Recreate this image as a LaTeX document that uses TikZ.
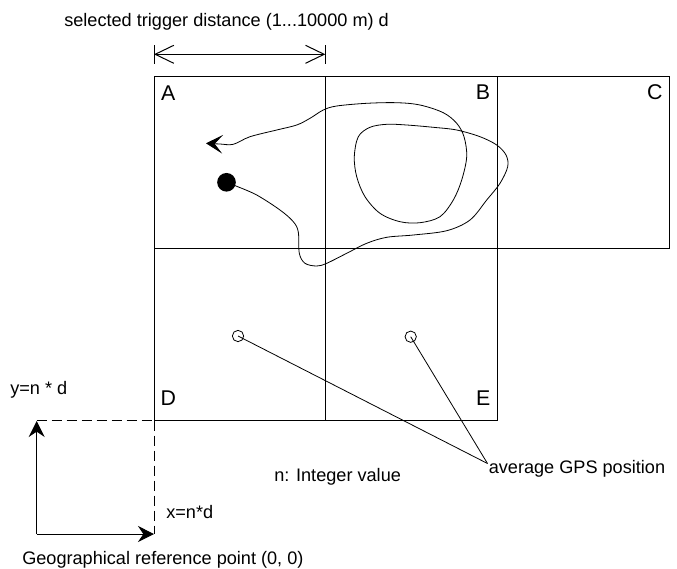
\documentclass[tikz,border=0pt]{standalone}
\usepackage{fontspec}
\setmainfont{Liberation Sans}
\usetikzlibrary{arrows.meta}
\begin{document}
\begin{tikzpicture}[x={(0.75pt,0)}, y={(0,-0.75pt)},
  txt/.style={inner sep=0pt, font=\fontsize{13.6pt}{15pt}\selectfont},
  cell/.style={inner sep=0pt, anchor=base, font=\fontsize{16pt}{18pt}\selectfont},
  gridline/.style={line width=0.75pt},
  thinline/.style={line width=0.6pt},
  dashline/.style={line width=0.75pt, dash pattern=on 7.5pt off 3.75pt},
  gpsmark/.style={circle, draw, line width=0.6pt, minimum size=8.5pt, inner sep=0pt},
  axisarrow/.style={line width=0.75pt, -{Stealth[length=12pt, width=12pt, inset=4pt]}},
  dimarrow/.style={line width=0.75pt, {Straight Barb[length=14pt, width=13.5pt]}-{Straight Barb[length=14pt, width=13.5pt]}}
]
\useasboundingbox (0,0) rectangle (677,568);

% grid of cells
\draw[gridline] (154,76.7) rectangle (669.3,248.7);
\draw[gridline] (154,248.7) rectangle (497.3,420.7);
\draw[gridline] (325.3,76.7) -- (325.3,420.7);
\draw[gridline] (497.3,76.7) -- (497.3,248.7);

% cell labels
\node[cell] (lA) at (168.3,100) {A};
\node[cell] (lB) at (483,99.5) {B};
\node[cell] (lC) at (654.7,99.5) {C};
\node[cell] (lD) at (168.3,405) {D};
\node[cell] (lE) at (483.3,405) {E};

% dimension arrow
\coordinate (dl) at (154,54.3);
\coordinate (dr) at (325.3,54.3);
\draw[gridline] (154,45) -- (154,63.5);
\draw[gridline] (325.3,45) -- (325.3,63.5);
\draw[dimarrow] (dl) -- (dr);
\node[txt, anchor=base west] (dist) at (64,26.5) {selected trigger distance (1...10000 m) d};

% trajectory
\node[circle, fill, minimum size=14pt, inner sep=0pt] (start) at (226.5,182.3) {};
\coordinate (tip) at (206,143.3);
\draw[thinline, -{Stealth[length=12.5pt, width=14pt, inset=6pt]}]
  plot[smooth, tension=0.55] coordinates {
  (start.center) (236,186) (256.7,195) (280,210) (293.3,221.7) (298.3,232) (299.3,253.3)
  (305,263.3) (316.7,266) (326.7,263.3) (346.7,253.3) (366.7,243.3) (386.7,237.3)
  (413.3,235) (446.7,230.7) (470,220) (486.7,200) (500,183.3) (507.7,166.7)
  (506,155) (496.7,145) (480,136.7) (456.7,130) (433.3,127.3) (406.7,125)
  (386.7,124.3) (370,127.3) (358.3,136.7) (354.3,156.7) (356.7,176.7) (365,196.7)
  (380,213.3) (400,221.7) (420,222.7) (440,216.7) (453.3,200) (461.7,180)
  (466.7,156.7) (464,136.7) (456.7,123.3) (443.3,112.7) (420,105) (396.7,102.7)
  (366.7,103.3) (336.7,106) (323.3,110) (310,118.3) (296.7,125) (276.7,130)
  (250,136.7) (233.3,144.3) (220,144) (tip)};

% average GPS positions
\node[gpsmark] (gps1) at (238,336) {};
\node[gpsmark] (gps2) at (410.7,336.7) {};
\node[txt, anchor=base west] (avg) at (488.5,473.3) {average GPS position};
\coordinate (avgpt) at (487.5,463.5);
\draw[thinline] (gps1.center) -- (avgpt);
\draw[thinline] (gps2.center) -- (avgpt);

\node[txt, anchor=base west] (intv) at (274,481) {n: Integer value};

% reference point
\coordinate (origin) at (36.7,534);
\coordinate (yend) at (36.7,421);
\coordinate (xend) at (154,534);
\coordinate (ycorner) at (154,420.7);
\coordinate (yleft) at (36.7,420.7);
\draw[dashline] (yleft) -- (ycorner);
\draw[dashline] (ycorner) -- (xend);
\draw[axisarrow] (origin) -- (yend);
\draw[axisarrow] (origin) -- (xend);

\node[txt, anchor=base west] (ylab) at (10,394) {y=n * d};
\node[txt, anchor=base west] (xlab) at (166,518.3) {x=n*d};
\node[txt, anchor=base west] (geo) at (22,564) {Geographical reference point (0, 0)};
\end{tikzpicture}
\end{document}
